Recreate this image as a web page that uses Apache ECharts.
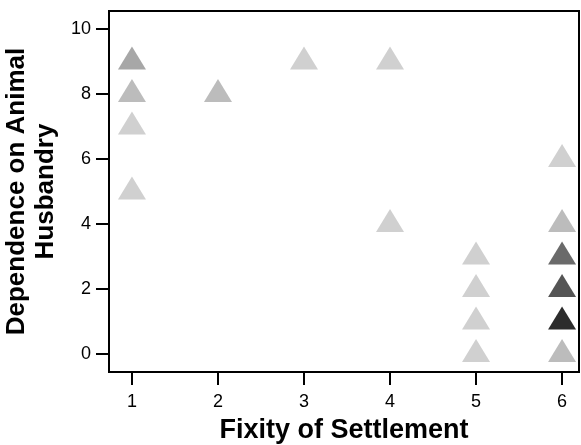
<!DOCTYPE html>
<html>
<head>
<meta charset="utf-8">
<script src="https://cdn.jsdelivr.net/npm/echarts@6/dist/echarts.min.js"></script>
<style>html,body{margin:0;padding:0;background:#fff}#c{width:581px;height:445px}</style>
</head>
<body>
<div id="c"></div>
<script>
// Data: x = Fixity of Settlement, y = Dependence on Animal Husbandry, count = overlapping cases
const xVals = [1, 1, 1, 1, 2, 3, 4, 4, 5, 5, 5, 5, 6, 6, 6, 6, 6, 6];
const yVals = [9, 8, 7, 5, 8, 9, 9, 4, 3, 2, 1, 0, 6, 4, 3, 2, 1, 0];
const counts = [3, 2, 1, 1, 2, 1, 1, 1, 1, 1, 1, 1, 1, 2, 6, 7, 9, 2];
const xTicks = [1, 2, 3, 4, 5, 6];
const yTicks = [0, 2, 4, 6, 8, 10];

function shade(n) {
  const v = Math.max(0, Math.round(208 - 20.5 * (n - 1)));
  return 'rgb(' + v + ',' + v + ',' + v + ')';
}
const data = xVals.map((x, i) => ({
  value: [x, yVals[i], counts[i]],
  itemStyle: { color: shade(counts[i]), opacity: 1 }
}));

const chart = echarts.init(document.getElementById('c'), null, { renderer: 'canvas' });
const font = 'Liberation Sans, Arial, sans-serif';
chart.setOption({
  animation: false,
  grid: { left: 109, right: 2, top: 11, bottom: 73, containLabel: false, outerBoundsMode: 'none', show: true, borderColor: '#000', borderWidth: 2, backgroundColor: 'transparent' },
  xAxis: {
    type: 'value', min: 0.733, max: 6.197,
    name: 'Fixity of Settlement', nameLocation: 'middle', nameGap: 45,
    nameTextStyle: { fontFamily: font, fontSize: 27, fontWeight: 'bold', color: '#000' },
    axisLine: { show: true, onZero: false, lineStyle: { color: '#000', width: 2 } },
    axisTick: { show: true, inside: false, length: 13, lineStyle: { color: '#000', width: 2 }, customValues: xTicks },
    axisLabel: { fontFamily: font, fontSize: 18, color: '#000', margin: 21, customValues: xTicks },
    splitLine: { show: false }
  },
  yAxis: {
    type: 'value', min: -0.55, max: 10.55,
    name: 'Dependence on Animal\nHusbandry', nameLocation: 'middle', nameGap: 42,
    nameTextStyle: { fontFamily: font, fontSize: 26, fontWeight: 'bold', color: '#000', lineHeight: 29 },
    axisLine: { show: true, onZero: false, lineStyle: { color: '#000', width: 2 } },
    axisTick: { show: true, inside: false, length: 13, lineStyle: { color: '#000', width: 2 }, customValues: yTicks },
    axisLabel: { fontFamily: font, fontSize: 18, color: '#000', margin: 18, customValues: yTicks },
    splitLine: { show: false }
  },
  series: [{
    type: 'scatter',
    symbol: 'triangle',
    symbolSize: [28, 23],
    symbolOffset: [0, -3.5],
    itemStyle: { opacity: 1 },
    emphasis: { disabled: true },
    data: data
  }]
});
</script>
</body>
</html>
